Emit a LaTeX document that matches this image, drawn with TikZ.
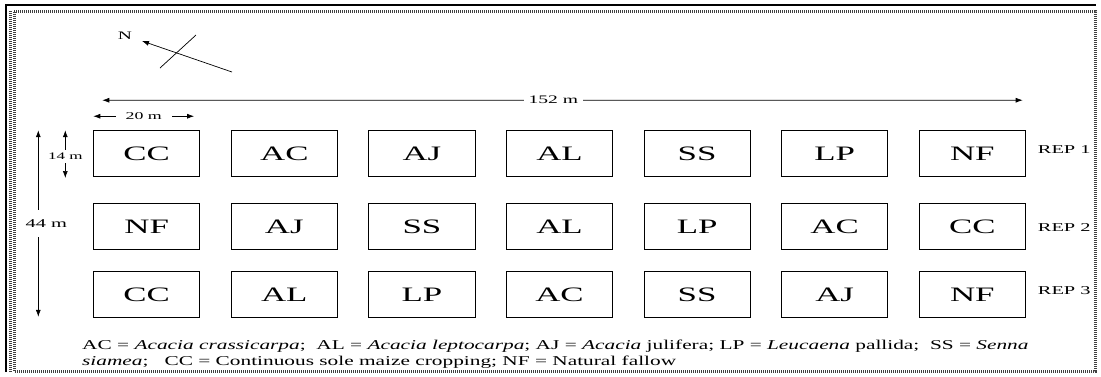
\documentclass[tikz,border=0pt]{standalone}
\usepackage{fontspec}
\setmainfont{Liberation Serif}
\newfontfamily\plotfont[FakeStretch=1.7]{Liberation Serif}
\newfontfamily\notefont[FakeStretch=1.58]{Liberation Serif}
\usepackage{tikz}
\usetikzlibrary{calc}
\usetikzlibrary{matrix}
\usetikzlibrary{arrows.meta}

\tikzset{
  plot/.style={draw,line width=0.8pt,minimum width=106pt,minimum height=46pt,inner sep=0pt,
    font={\plotfont\fontsize{20.5}{20}\selectfont}},
  rep/.style={anchor=west,inner sep=0pt,font={\plotfont\fontsize{12}{14}\selectfont}},
  dim/.style={fill=white,inner sep=1pt,font={\plotfont\fontsize{10.5}{12}\selectfont}},
  note/.style={align=left,inner sep=0pt,font={\notefont\fontsize{13.5}{15.5}\selectfont}},
  tip/.style={line width=0.7pt,{Latex[length=7pt,width=5pt]}-{Latex[length=7pt,width=5pt]}},
}

\begin{document}
\begin{tikzpicture}[x=1pt,y=-1pt]
\useasboundingbox (0,0) rectangle (1101,376);

\def\ow{1096}
\def\oh{372}
\draw[line width=1.2pt] (6,\oh) -- (6,5) -- (\ow,5);
\draw[black!75,line width=3pt,dash pattern=on 1pt off 1pt] (10,11) -- (10,\oh);
\draw[black!75,line width=3pt,dash pattern=on 1pt off 1pt] (14,11) -- (\ow-1,11) -- (\ow-1,\oh-1) -- (14,\oh-1) -- cycle;

\matrix (m)[matrix of nodes,nodes={plot},column sep=30.8pt,row sep=21pt] at (559.5,224)
{
CC & AC & AJ & AL & SS & LP & NF \\[5pt]
NF & AJ & SS & AL & LP & AC & CC \\
CC & AL & LP & AC & SS & AJ & NF \\
};

\node[rep] (rep1) at ($(m-1-7.east)+(12,-4.5)$) {REP 1};
\node[rep] (rep2) at ($(m-2-7.east)+(12,1)$) {REP 2};
\node[rep] (rep3) at ($(m-3-7.east)+(12,-4)$) {REP 3};

\coordinate (nt) at (232,72);
\coordinate (nh) at (142,41);
\coordinate (ca) at (160,68);
\coordinate (cb) at (196,35);
\node[dim,fill=none,font={\plotfont\fontsize{11.5}{12}\selectfont}] (north) at (125,36) {N};
\draw[line width=0.7pt,-{Latex[length=7pt,width=5pt]}] (nt) -- (nh);
\draw[line width=0.7pt] (ca) -- (cb);

\coordinate (lw) at ($(m-1-1.north west)+(9,-30)$);
\coordinate (le) at ($(m-1-7.north east)+(-3,-30)$);
\draw[tip] (lw) -- node[dim,pos=0.49,inner xsep=5pt,font={\plotfont\fontsize{11.5}{12}\selectfont}]{152 m} (le);

\coordinate (sw) at ($(m-1-1.north west)+(0,-14)$);
\coordinate (se) at ($(m-1-1.north east)+(-6,-14)$);
\draw[tip] (sw) -- node[dim,inner xsep=10pt]{20 m} (se);

\coordinate (ht) at ($(m-1-1.north west)+(-55,0)$);
\coordinate (hb) at ($(m-3-1.south west)+(-55,-1)$);
\draw[tip] (ht) -- node[dim,inner ysep=13pt,fill=none] (h44) {} (hb);
\fill[white] (h44.north west) rectangle (h44.south east);
\node[dim,fill=none,xshift=8pt,font={\plotfont\fontsize{12}{12}\selectfont}] at (h44) {44 m};

\coordinate (rt) at ($(m-1-1.north west)+(-28,0)$);
\coordinate (rb) at ($(m-1-1.south west)+(-28,1)$);
\draw[tip] (rt) -- node[dim,pos=0.55,inner ysep=3pt,font={\plotfont\fontsize{10}{11}\selectfont}]{14 m} (rb);

\node[note,anchor=north west] (key) at (82,340) {AC = \textit{Acacia crassicarpa};\ \ AL = \textit{Acacia leptocarpa}; AJ = \textit{Acacia} julifera; LP = \textit{Leucaena} pallida;\ \ SS = \textit{Senna}\\
\textit{siamea};\ \ \ CC = Continuous sole maize cropping; NF = Natural fallow};

\end{tikzpicture}
\end{document}
